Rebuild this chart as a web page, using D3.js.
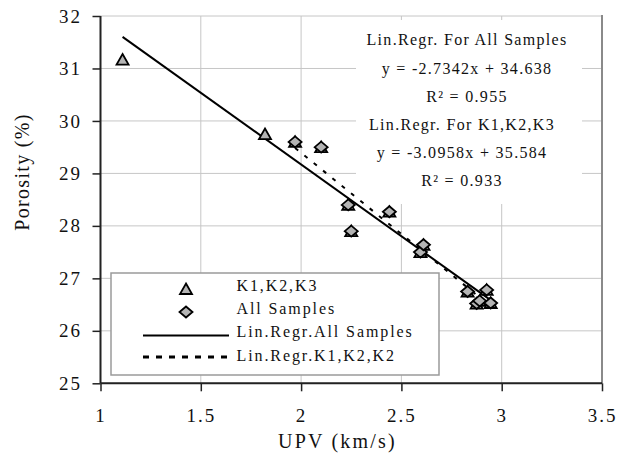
<!DOCTYPE html>
<html>
<head>
<meta charset="utf-8">
<script src="https://cdn.jsdelivr.net/npm/d3@7"></script>
<style>
  html, body { margin: 0; padding: 0; background: #fff; }
  svg { display: block; font-family: "Liberation Serif", "Times New Roman", serif; }
</style>
</head>
<body>
<svg width="617" height="457"></svg>
<script>
// 数据：UPV 与孔隙率
const upvK = [1.11, 1.82, 1.97, 2.10, 2.235, 2.25, 2.44, 2.595, 2.61, 2.83, 2.875, 2.89, 2.925, 2.945];
const porK = [31.17, 29.75, 29.60, 29.50, 28.40, 27.90, 28.27, 27.50, 27.64, 26.75, 26.52, 26.57, 26.78, 26.53];
const upvAll = [1.97, 2.10, 2.235, 2.25, 2.44, 2.595, 2.61, 2.83, 2.875, 2.89, 2.925, 2.945];
const porAll = [29.60, 29.50, 28.40, 27.90, 28.27, 27.50, 27.64, 26.75, 26.52, 26.57, 26.78, 26.53];

// 回归系数 (斜率, 截距)
const fitSlopes = [-2.7342, -3.0958];
const fitIntercepts = [34.638, 35.584];

const xTicks = [1, 1.5, 2, 2.5, 3, 3.5];
const yTicks = [25, 26, 27, 28, 29, 30, 31, 32];

const legendLabels = ["K1,K2,K3", "All Samples", "Lin.Regr.All Samples", "Lin.Regr.K1,K2,K2"];
const noteLines = ["Lin.Regr. For All Samples", "y = -2.7342x + 34.638", "R\u00B2 = 0.955",
                   "Lin.Regr. For K1,K2,K3", "y = -3.0958x + 35.584", "R\u00B2 = 0.933"];

let svg = d3.select("svg");
let x = d3.scaleLinear().domain([1, 3.5]).range([100.5, 602]);
let y = d3.scaleLinear().domain([25, 32]).range([383.3, 16]);

let fillGray = "#b4b4b4";

//网格线
let grid = svg.append("g");
grid.selectAll(".hg").data(yTicks).enter().append("line")
    .attr("x1", x(1)).attr("x2", x(3.5))
    .attr("y1", d => y(d)).attr("y2", d => y(d))
    .attr("stroke", "#c6c6c6").attr("stroke-width", 1);
grid.selectAll(".vg").data(xTicks.slice(1)).enter().append("line")
    .attr("x1", d => x(d)).attr("x2", d => x(d))
    .attr("y1", y(25)).attr("y2", y(32))
    .attr("stroke", "#c6c6c6").attr("stroke-width", 1);
//右边框
svg.append("line")
    .attr("x1", x(3.5)).attr("x2", x(3.5)).attr("y1", y(32) - 1).attr("y2", y(25))
    .attr("stroke", "#8a8a8a").attr("stroke-width", 2);

//注释文本框背景
svg.append("rect")
    .attr("x", 356).attr("y", 20).attr("width", 226).attr("height", 184)
    .attr("fill", "#fff");

//回归线
let fitRanges = [d3.extent(upvK), d3.extent(upvAll)];
let fitDash = [null, "4,8"];
fitSlopes.forEach((s, i) => {
    let xs = fitRanges[i];
    svg.append("line")
        .attr("x1", x(xs[0])).attr("y1", y(fitIntercepts[i] + s * xs[0]))
        .attr("x2", x(xs[1])).attr("y2", y(fitIntercepts[i] + s * xs[1]))
        .attr("stroke", "#000").attr("stroke-width", 2)
        .attr("stroke-dasharray", fitDash[i]);
});

//标记形状
let triPath = "M0,-5.5L6,5L-6,5Z";
let diaPath = "M0,-5.5L6.5,0L0,5.5L-6.5,0Z";

svg.append("g").selectAll("path").data(upvK).enter().append("path")
    .attr("d", triPath)
    .attr("transform", (d, i) => "translate(" + x(d) + "," + y(porK[i]) + ")")
    .attr("fill", fillGray).attr("stroke", "#000").attr("stroke-width", 1.8)
    .attr("stroke-linejoin", "miter");

svg.append("g").selectAll("path").data(upvAll).enter().append("path")
    .attr("d", diaPath)
    .attr("transform", (d, i) => "translate(" + x(d) + "," + y(porAll[i]) + ")")
    .attr("fill", fillGray).attr("stroke", "#000").attr("stroke-width", 1.8);

//坐标轴
let yAxis = svg.append("g")
    .attr("transform", "translate(" + x(1) + ",0)")
    .call(d3.axisLeft(y).tickValues(yTicks).tickSize(8).tickPadding(10.5).tickFormat(d => d));
let xAxis = svg.append("g")
    .attr("transform", "translate(0," + y(25) + ")")
    .call(d3.axisBottom(x).tickValues(xTicks).tickSize(8).tickPadding(17).tickFormat(d => d));

[xAxis, yAxis].forEach(a => {
    a.select(".domain").attr("stroke", "#222").attr("stroke-width", 2);
    a.selectAll(".tick line").attr("stroke", "#222").attr("stroke-width", 1.5);
    a.selectAll(".tick text")
        .attr("fill", "#111")
        .style("font-size", "19px")
        .style("font-family", "'Liberation Serif', 'Times New Roman', serif")
        .style("letter-spacing", "2px");
});
xAxis.select(".domain").attr("d", "M" + x(1) + ",0H" + x(3.5));
yAxis.select(".domain").attr("d", "M0," + y(25) + "V" + y(32));

//坐标轴标题
svg.append("text")
    .attr("x", 337.5).attr("y", 448)
    .attr("text-anchor", "middle")
    .style("font-size", "20px").style("letter-spacing", "2.2px")
    .attr("fill", "#111")
    .text("UPV (km/s)");
svg.append("text")
    .attr("transform", "translate(29,172) rotate(-90)")
    .attr("text-anchor", "middle")
    .style("font-size", "20px").style("letter-spacing", "1.3px")
    .attr("fill", "#111")
    .text("Porosity (%)");

//图例
let legend = svg.append("g");
legend.append("rect")
    .attr("x", 111).attr("y", 273).attr("width", 328).attr("height", 102)
    .attr("fill", "#fff").attr("stroke", "#9a9a9a").attr("stroke-width", 1.5);
let legendText = [291, 313.5, 337, 361];
let legendMark = [289, 312, 335.5, 357];
legend.append("path").attr("d", triPath)
    .attr("transform", "translate(186," + legendMark[0] + ")")
    .attr("fill", fillGray).attr("stroke", "#000").attr("stroke-width", 1.8);
legend.append("path").attr("d", diaPath)
    .attr("transform", "translate(186," + legendMark[1] + ")")
    .attr("fill", fillGray).attr("stroke", "#000").attr("stroke-width", 1.8);
legend.append("line")
    .attr("x1", 143).attr("x2", 229).attr("y1", legendMark[2]).attr("y2", legendMark[2])
    .attr("stroke", "#000").attr("stroke-width", 2);
legend.append("line")
    .attr("x1", 143).attr("x2", 229).attr("y1", legendMark[3]).attr("y2", legendMark[3])
    .attr("stroke", "#000").attr("stroke-width", 3).attr("stroke-dasharray", "6,7");
legend.selectAll("text").data(legendLabels).enter().append("text")
    .attr("x", 236.5).attr("y", (d, i) => legendText[i])
    .style("font-size", "16px").style("letter-spacing", "1.9px")
    .attr("fill", "#111")
    .text(d => d);

//注释文本
let noteX = [467, 467, 467, 462, 462, 462];
let noteY = [45, 74, 102, 130, 158, 186];
svg.append("g").selectAll("text").data(noteLines).enter().append("text")
    .attr("x", (d, i) => noteX[i]).attr("y", (d, i) => noteY[i])
    .attr("text-anchor", "middle")
    .style("font-size", "16px").style("letter-spacing", "1.3px")
    .attr("fill", "#111")
    .text(d => d);
</script>
</body>
</html>
